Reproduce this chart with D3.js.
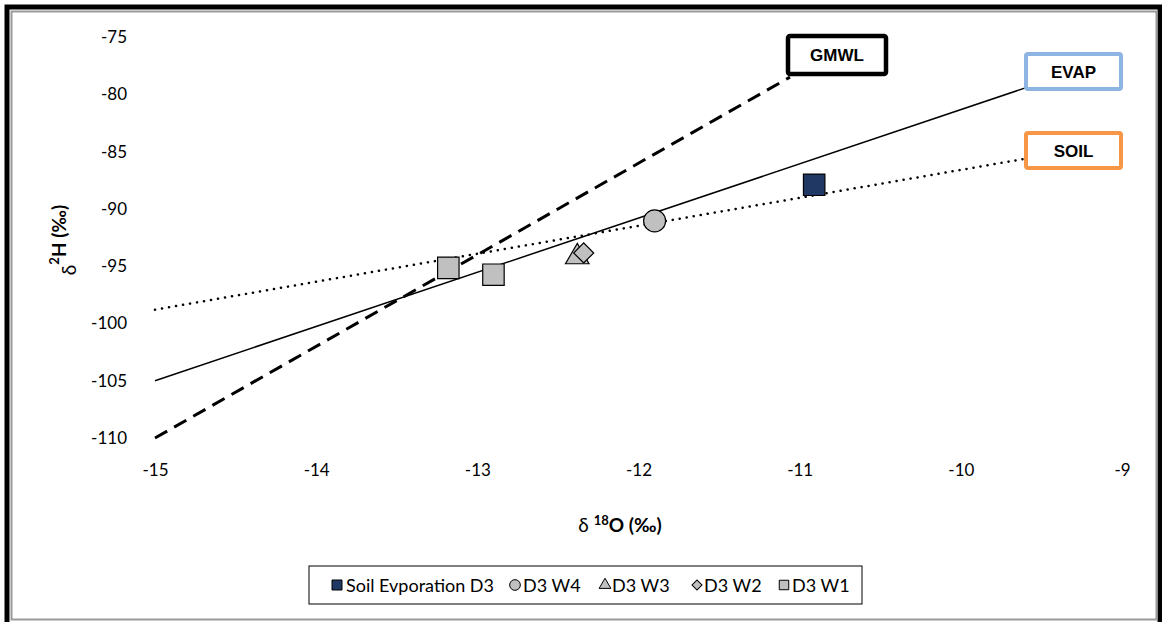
<!DOCTYPE html>
<html>
<head>
<meta charset="utf-8">
<script src="https://cdn.jsdelivr.net/npm/d3@7"></script>
<style>
  body { margin: 0; background: #fff; }
  svg { font-family: Lato, 'Open Sans', sans-serif; }
</style>
</head>
<body>
<div id="chart"></div>
<script>
const xTicks = [-15, -14, -13, -12, -11, -10, -9];
const yTicks = [-110, -105, -100, -95, -90, -85, -80, -75];

// reference lines: [x, y] end points
const gmwl = [[-15, -110], [-11.06, -78.5]];
const evap = [[-15, -105], [-9.59, -79.4]];
const soil = [[-15, -98.8], [-9.59, -85.6]];

// samples
const soilEvap = [[-10.91, -87.9]];
const w4 = [[-11.90, -91.05]];
const w3 = [[-12.38, -94.2]];
const w2 = [[-12.34, -93.85]];
const w1 = [[-13.18, -95.15], [-12.90, -95.75]];

const legendNames = ['Soil Evporation D3', 'D3 W4', 'D3 W3', 'D3 W2', 'D3 W1'];

const W = 1162, H = 622;
const svg = d3.select('#chart').append('svg')
  .attr('width', W).attr('height', H);

// frame
svg.append('rect').attr('x', 7).attr('y', 7).attr('width', 1153).attr('height', 620)
  .style('fill', 'none').style('stroke', '#000').style('stroke-width', 5);
svg.append('rect').attr('x', 11.5).attr('y', 11.5).attr('width', 1145).attr('height', 608)
  .style('fill', '#fff').style('stroke', '#999').style('stroke-width', 2);

const x = d3.scaleLinear().domain([-15, -9]).range([155, 1122]);
const y = d3.scaleLinear().domain([-110, -75]).range([438, 37]);

// tick labels only, no axis lines
const xAxis = svg.append('g').attr('transform', 'translate(0,468)')
  .call(d3.axisBottom(x).tickValues(xTicks).tickSize(0).tickFormat(d => String(d)));
xAxis.select('.domain').remove();
xAxis.selectAll('text').style('font-size', '17px').style('fill', '#000')
  .style('font-family', 'Lato, sans-serif').attr('dy', '0.3em');

const yAxis = svg.append('g').attr('transform', 'translate(130,0)')
  .call(d3.axisLeft(y).tickValues(yTicks).tickSize(0).tickFormat(d => String(d)));
yAxis.select('.domain').remove();
yAxis.selectAll('text').style('font-size', '17px').style('fill', '#000')
  .style('font-family', 'Lato, sans-serif');

// axis titles
const xt = svg.append('text').attr('x', 620).attr('y', 532)
  .attr('text-anchor', 'middle').style('font-size', '19px');
xt.append('tspan').text('δ ');
xt.append('tspan').text('18').style('font-weight', 'bold').style('font-size', '13px').attr('dy', -7);
xt.append('tspan').text('O (‰)').style('font-weight', 'bold').attr('dy', 7);

const yt = svg.append('text').attr('transform', 'translate(66,240) rotate(-90)')
  .attr('text-anchor', 'middle').style('font-size', '19px');
yt.append('tspan').text('δ').attr('dy', 10);
yt.append('tspan').text('2').style('font-weight', 'bold').style('font-size', '13px').attr('dy', -17);
yt.append('tspan').text('H (‰)').style('font-weight', 'bold').attr('dy', 7);

const line = d3.line().x(d => x(d[0])).y(d => y(d[1]));

svg.append('path').datum(gmwl).attr('d', line)
  .style('fill', 'none').style('stroke', '#000').style('stroke-width', 3)
  .style('stroke-dasharray', '14,8');
svg.append('path').datum(evap).attr('d', line)
  .style('fill', 'none').style('stroke', '#000').style('stroke-width', 1.5);
svg.append('path').datum(soil).attr('d', line)
  .style('fill', 'none').style('stroke', '#000').style('stroke-width', 2.5)
  .style('stroke-dasharray', '0.1,7').style('stroke-linecap', 'round');

// markers
const grey = '#c0c0c0';
const sym = (type, size) => d3.symbol().type(type).size(size);

function drawSeries(data, type, size, fill, rot) {
  svg.selectAll(null).data(data).enter().append('path')
    .attr('d', sym(type, size))
    .attr('transform', d => `translate(${x(d[0])},${y(d[1])}) rotate(${rot || 0})`)
    .style('fill', fill).style('stroke', '#000').style('stroke-width', 1.2);
}
drawSeries(w1, d3.symbolSquare, 460, grey);
drawSeries(w3, d3.symbolTriangle, 240, grey);
drawSeries(w2, d3.symbolSquare, 200, grey, 45);
drawSeries(w4, d3.symbolCircle, 380, grey);
drawSeries(soilEvap, d3.symbolSquare, 460, '#1f3864');

// line labels
const labels = [
  {t: 'GMWL', x: 788, y: 36, w: 98, h: 38, c: '#000', sw: 4.5},
  {t: 'EVAP', x: 1026, y: 54, w: 95, h: 35, c: '#8db4e2', sw: 4},
  {t: 'SOIL', x: 1026, y: 133, w: 95, h: 35, c: '#f79646', sw: 4}
];
const lg = svg.selectAll('.lbl').data(labels).enter().append('g').attr('class', 'lbl');
lg.append('rect').attr('x', d => d.x).attr('y', d => d.y).attr('width', d => d.w).attr('height', d => d.h)
  .attr('rx', 2).style('fill', '#fff').style('stroke', d => d.c).style('stroke-width', d => d.sw);
lg.append('text').attr('x', d => d.x + d.w / 2).attr('y', d => d.y + d.h / 2 + 6)
  .attr('text-anchor', 'middle').style('font-family', "'Liberation Sans', Arial, sans-serif")
  .style('font-weight', 'bold').style('font-size', '17px').text(d => d.t);

// legend
svg.append('rect').attr('x', 309).attr('y', 566).attr('width', 553).attr('height', 38)
  .style('fill', '#fff').style('stroke', '#000').style('stroke-width', 1);
const legItems = [
  {type: d3.symbolSquare, size: 100, fill: '#1f3864', mx: 337, tx: 346, rot: 0},
  {type: d3.symbolCircle, size: 90, fill: grey, mx: 515, tx: 523, rot: 0},
  {type: d3.symbolTriangle, size: 60, fill: grey, mx: 605, tx: 612, rot: 0},
  {type: d3.symbolSquare, size: 50, fill: grey, mx: 697, tx: 704, rot: 45},
  {type: d3.symbolSquare, size: 90, fill: grey, mx: 784, tx: 792, rot: 0}
];
const li = svg.selectAll('.leg').data(legItems).enter().append('g').attr('class', 'leg');
li.append('path').attr('d', d => sym(d.type, d.size)())
  .attr('transform', d => `translate(${d.mx},585) rotate(${d.rot})`)
  .style('fill', d => d.fill).style('stroke', '#000').style('stroke-width', 1);
li.append('text').attr('x', d => d.tx).attr('y', 591.5)
  .style('font-size', '18px').text((d, i) => legendNames[i]);
</script>
</body>
</html>
